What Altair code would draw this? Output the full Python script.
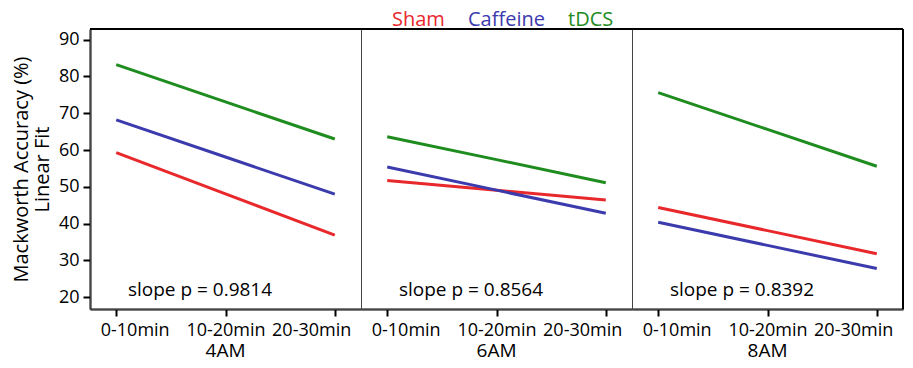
import altair as alt
import pandas as pd

hours = ["4AM", "6AM", "8AM"]
times = ["0-10min", "10-20min", "20-30min"]
groups = ["Sham", "Caffeine", "tDCS"]
colors = ["#E8282B", "#3B3BAE", "#1E8C1E"]

sham = {"4AM": [59.3, 48.1, 36.9], "6AM": [51.7, 49.1, 46.4], "8AM": [44.4, 38.1, 31.8]}
caffeine = {"4AM": [68.2, 58.1, 48.0], "6AM": [55.4, 49.1, 42.8], "8AM": [40.4, 34.1, 27.8]}
tdcs = {"4AM": [83.2, 73.1, 63.0], "6AM": [63.6, 57.4, 51.1], "8AM": [75.6, 65.6, 55.6]}
slope_p = {"4AM": "0.9814", "6AM": "0.8564", "8AM": "0.8392"}

rows = []
for g, d in zip(groups, [sham, caffeine, tdcs]):
    for h in hours:
        for t, v in zip(times, d[h]):
            rows.append({"hour": h, "time": t, "group": g, "value": v,
                         "label": "slope p = " + slope_p[h]})
df = pd.DataFrame(rows)

FONT = "Open Sans"
W, H = 271, 280

color_expr = " : ".join(
    [f"datum.label == '{g}' ? '{c}'" for g, c in zip(groups[:-1], colors[:-1])]
) + f" : '{colors[-1]}'"

lines = alt.Chart().mark_line(strokeWidth=3).encode(
    x=alt.X("time:N", sort=times,
            scale=alt.Scale(type="point", padding=0.24),
            axis=alt.Axis(title=None, labelAngle=0, domainColor="black", domainWidth=2,
                          tickColor="black", tickWidth=2, tickSize=7,
                          labelFlush=35, labelFlushOffset=16,
                          labelFontSize=18, labelPadding=5, labelColor="black", grid=False)),
    y=alt.Y("value:Q",
            scale=alt.Scale(domain=[16.8, 92.9], nice=False, zero=False),
            axis=alt.Axis(values=[20, 30, 40, 50, 60, 70, 80, 90],
                          title=["Mackworth Accuracy (%)", "Linear Fit"],
                          titleFontSize=20, titleFontWeight="normal", titleColor="black",
                          titlePadding=6, titleLineHeight=21,
                          domainColor="black", domainWidth=2, tickColor="black",
                          tickWidth=2, tickSize=7, labelFontSize=18, labelPadding=4,
                          labelColor="black", grid=False)),
    color=alt.Color("group:N", sort=groups,
                    scale=alt.Scale(domain=groups, range=colors),
                    legend=alt.Legend(title=None, orient="none", direction="horizontal",
                                      legendX=282, legendY=-19,
                                      symbolSize=0, symbolStrokeWidth=0, symbolOpacity=0,
                                      labelFontSize=20, labelOffset=0, columnPadding=3,
                                      labelColor={"expr": color_expr})),
    detail="group:N",
)

text = alt.Chart().transform_filter(
    "datum.time == '0-10min' && datum.group == 'Sham'"
).mark_text(fontSize=19, align="center", baseline="middle", color="black", font=FONT).encode(
    x=alt.value(110), y=alt.value(261), text="label:N"
)

top_border = alt.Chart().transform_filter(
    "datum.time == '0-10min' && datum.group == 'Sham'"
).mark_rule(color="black", strokeWidth=2).encode(
    x=alt.value(0), x2=alt.value(W), y=alt.value(0)
)

right_border = alt.Chart().transform_filter(
    "datum.time == '0-10min' && datum.group == 'Sham' && datum.hour == '8AM'"
).mark_rule(color="black", strokeWidth=2).encode(
    x=alt.value(W), y=alt.value(0), y2=alt.value(H)
)

chart = alt.layer(lines, text, top_border, right_border, data=df).properties(
    width=W, height=H
).facet(
    column=alt.Column("hour:N", sort=hours,
                      header=alt.Header(title=None, labelOrient="bottom", labelFontSize=19,
                                        labelColor="black", labelPadding=3, labelFont=FONT))
).properties(
    spacing=0, bounds="flush"
).configure(
    font=FONT,
    padding={"left": 3, "top": 2, "right": 0, "bottom": 2},
).configure_view(
    stroke="#444", strokeWidth=1
).configure_axis(
    labelFont=FONT, titleFont=FONT
).configure_legend(
    labelFont=FONT
)

chart.save("out.html", embed_options={"renderer": "svg", "actions": False})
